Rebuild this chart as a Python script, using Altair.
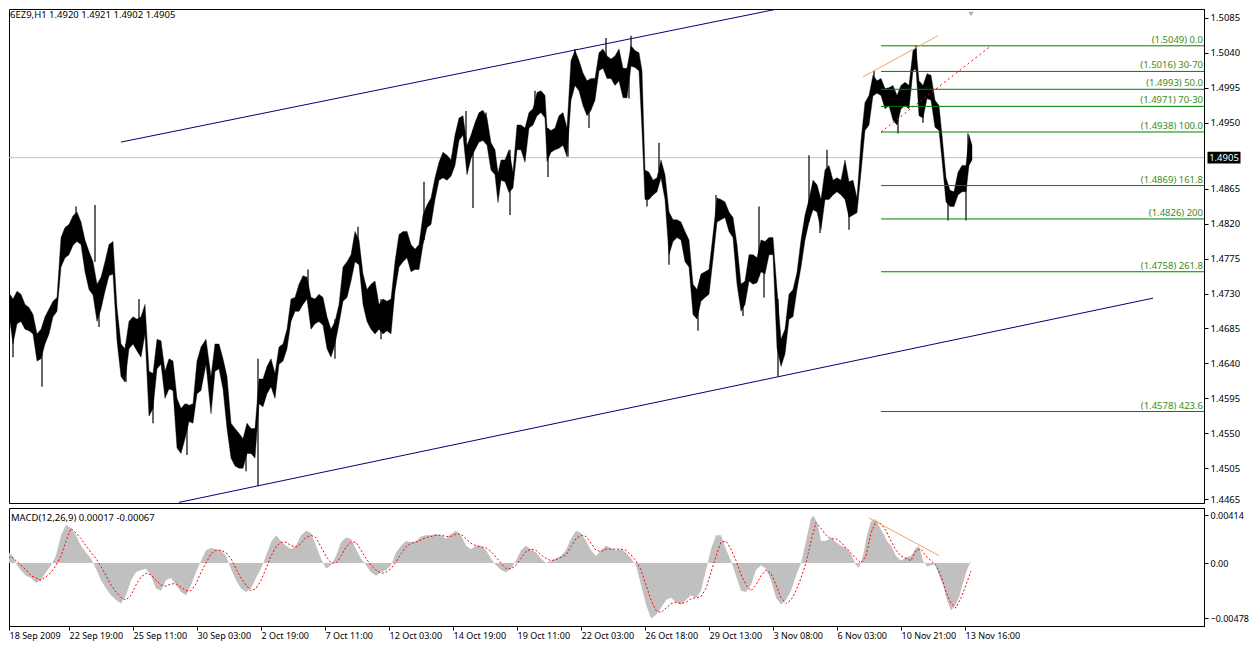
import altair as alt
import pandas as pd

TITLE = "6EZ9,H1  1.4920 1.4921 1.4902 1.4905"
MACD_TITLE = "MACD(12,26,9) 0.00017 -0.00067"
FONT = "Noto Sans"

# ---------------- price samples (bar position, high, low) ----------------
price_bar = [
    5, 9, 12, 16, 20, 24, 28, 32, 36, 40,
    44, 48, 52, 56, 60, 64, 68, 72, 76, 80,
    84, 88, 92, 96, 100, 104, 108, 112, 116, 120,
    124, 128, 132, 136, 140, 144, 148, 152, 156, 160,
    164, 168, 172, 176, 180, 184, 188, 192, 196, 200,
    205, 210, 214, 218, 222, 226, 230, 234, 238, 242,
    246, 250, 254, 258, 262, 266, 270, 274, 278, 282,
    286, 290, 294, 298, 302, 306, 310, 314, 318, 322,
    326, 330, 334, 338, 342, 346, 350, 354, 358, 362,
    366, 370, 374, 378, 382, 386, 390, 394, 398, 402,
    406, 410, 414, 418, 422, 426, 430, 434, 438, 442,
    446, 450, 454, 458, 462, 466, 470, 474, 478, 482,
    486, 490, 494, 497, 500, 504, 508, 512, 516, 520,
    524, 528, 532, 536, 540, 544, 546, 550, 554, 558,
    562, 566, 570, 574, 578, 582, 586, 590, 594, 598,
    602, 606, 610, 614, 618, 622, 626, 630, 634, 638,
    641, 644, 648, 652, 656, 660, 664, 668, 672, 676,
    680, 684, 688, 692, 696, 700, 704, 708, 712, 716,
    720, 724, 728, 732, 736, 740, 744, 748, 752, 756,
    760, 764, 768, 772, 776, 780, 784, 788, 792, 796,
    800, 804, 808, 812, 816, 820, 824, 828, 832, 836,
    840, 844, 848, 852, 856, 860, 864, 868, 872, 876,
    880, 884, 888, 892, 896, 900, 904, 908, 912, 915,
    918, 922, 926, 930, 934, 938, 941, 945, 949, 953,
    957, 961, 965, 968, 971,
]
price_high = [
    1.4726, 1.4729, 1.4723, 1.4733, 1.4729, 1.4716, 1.4712, 1.4703, 1.4678, 1.4684,
    1.4700, 1.4710, 1.4720, 1.4725, 1.4802, 1.4815, 1.4819, 1.4830, 1.4835, 1.4822,
    1.4799, 1.4784, 1.4771, 1.4742, 1.4751, 1.4771, 1.4793, 1.4797, 1.4712, 1.4665,
    1.4659, 1.4694, 1.4700, 1.4697, 1.4700, 1.4716, 1.4630, 1.4627, 1.4671, 1.4669,
    1.4630, 1.4646, 1.4643, 1.4595, 1.4582, 1.4588, 1.4586, 1.4588, 1.4643, 1.4661,
    1.4671, 1.4623, 1.4665, 1.4665, 1.4646, 1.4623, 1.4563, 1.4556, 1.4550, 1.4543,
    1.4563, 1.4556, 1.4556, 1.4620, 1.4620, 1.4636, 1.4646, 1.4627, 1.4661, 1.4665,
    1.4684, 1.4723, 1.4725, 1.4742, 1.4753, 1.4751, 1.4725, 1.4723, 1.4729, 1.4725,
    1.4700, 1.4684, 1.4694, 1.4716, 1.4764, 1.4771, 1.4780, 1.4810, 1.4799, 1.4755,
    1.4735, 1.4742, 1.4746, 1.4716, 1.4723, 1.4720, 1.4723, 1.4771, 1.4806, 1.4810,
    1.4810, 1.4793, 1.4787, 1.4793, 1.4831, 1.4844, 1.4853, 1.4879, 1.4899, 1.4912,
    1.4908, 1.4902, 1.4934, 1.4956, 1.4959, 1.4921, 1.4934, 1.4950, 1.4963, 1.4966,
    1.4956, 1.4924, 1.4915, 1.4885, 1.4902, 1.4902, 1.4915, 1.4886, 1.4947, 1.4947,
    1.4943, 1.4963, 1.4968, 1.4989, 1.4991, 1.4985, 1.4943, 1.4940, 1.4943, 1.4959,
    1.4963, 1.4943, 1.5030, 1.5043, 1.5030, 1.5014, 1.5004, 1.5007, 1.5007, 1.5040,
    1.5045, 1.5036, 1.5032, 1.5036, 1.5045, 1.5020, 1.5020, 1.5049, 1.5043, 1.5040,
    1.5017, 1.4889, 1.4886, 1.4876, 1.4879, 1.4902, 1.4883, 1.4835, 1.4825, 1.4825,
    1.4822, 1.4810, 1.4799, 1.4742, 1.4735, 1.4755, 1.4758, 1.4761, 1.4806, 1.4853,
    1.4851, 1.4848, 1.4835, 1.4828, 1.4793, 1.4742, 1.4746, 1.4780, 1.4780, 1.4776,
    1.4799, 1.4797, 1.4802, 1.4802, 1.4735, 1.4671, 1.4684, 1.4729, 1.4735, 1.4757,
    1.4799, 1.4831, 1.4851, 1.4876, 1.4870, 1.4851, 1.4889, 1.4895, 1.4876, 1.4879,
    1.4876, 1.4902, 1.4874, 1.4876, 1.4853, 1.4927, 1.4976, 1.4985, 1.5011, 1.5004,
    1.5007, 1.4994, 1.4995, 1.4998, 1.4985, 1.4998, 1.5002, 1.4998, 1.5043, 1.5046,
    1.5004, 1.4998, 1.5013, 1.5011, 1.4979, 1.4972, 1.4934, 1.4879, 1.4863, 1.4861,
    1.4886, 1.4895, 1.4895, 1.4934, 1.4921,
]
price_low = [
    1.4697, 1.4694, 1.4665, 1.4691, 1.4694, 1.4684, 1.4682, 1.4678, 1.4643, 1.4646,
    1.4665, 1.4678, 1.4700, 1.4707, 1.4764, 1.4776, 1.4780, 1.4792, 1.4797, 1.4793,
    1.4758, 1.4735, 1.4728, 1.4694, 1.4710, 1.4733, 1.4753, 1.4755, 1.4669, 1.4623,
    1.4616, 1.4659, 1.4665, 1.4656, 1.4648, 1.4678, 1.4572, 1.4582, 1.4633, 1.4639,
    1.4595, 1.4607, 1.4605, 1.4531, 1.4524, 1.4543, 1.4565, 1.4563, 1.4601, 1.4605,
    1.4639, 1.4575, 1.4630, 1.4633, 1.4607, 1.4556, 1.4518, 1.4508, 1.4505, 1.4505,
    1.4524, 1.4524, 1.4518, 1.4588, 1.4584, 1.4601, 1.4610, 1.4595, 1.4639, 1.4643,
    1.4659, 1.4694, 1.4707, 1.4707, 1.4716, 1.4723, 1.4684, 1.4691, 1.4694, 1.4689,
    1.4659, 1.4648, 1.4665, 1.4691, 1.4720, 1.4725, 1.4746, 1.4771, 1.4767, 1.4716,
    1.4694, 1.4684, 1.4678, 1.4684, 1.4678, 1.4682, 1.4678, 1.4733, 1.4764, 1.4771,
    1.4776, 1.4758, 1.4761, 1.4761, 1.4793, 1.4815, 1.4819, 1.4851, 1.4876, 1.4879,
    1.4876, 1.4881, 1.4895, 1.4927, 1.4934, 1.4883, 1.4904, 1.4915, 1.4925, 1.4927,
    1.4921, 1.4889, 1.4883, 1.4847, 1.4876, 1.4874, 1.4860, 1.4866, 1.4915, 1.4915,
    1.4899, 1.4943, 1.4947, 1.4959, 1.4963, 1.4956, 1.4900, 1.4912, 1.4915, 1.4917,
    1.4921, 1.4906, 1.4979, 1.4998, 1.4991, 1.4972, 1.4959, 1.4966, 1.4979, 1.5017,
    1.5020, 1.5007, 1.5007, 1.4998, 1.5004, 1.4982, 1.4982, 1.5023, 1.5021, 1.5017,
    1.4940, 1.4851, 1.4851, 1.4857, 1.4861, 1.4879, 1.4851, 1.4780, 1.4797, 1.4802,
    1.4799, 1.4771, 1.4764, 1.4703, 1.4697, 1.4720, 1.4725, 1.4729, 1.4774, 1.4822,
    1.4825, 1.4828, 1.4810, 1.4802, 1.4742, 1.4707, 1.4716, 1.4746, 1.4742, 1.4744,
    1.4758, 1.4755, 1.4780, 1.4780, 1.4660, 1.4636, 1.4652, 1.4697, 1.4700, 1.4735,
    1.4764, 1.4799, 1.4822, 1.4838, 1.4835, 1.4812, 1.4851, 1.4851, 1.4857, 1.4861,
    1.4857, 1.4851, 1.4828, 1.4831, 1.4834, 1.4886, 1.4940, 1.4947, 1.4985, 1.4988,
    1.4985, 1.4968, 1.4972, 1.4953, 1.4947, 1.4968, 1.4972, 1.4968, 1.5017, 1.5020,
    1.4959, 1.4956, 1.4981, 1.4979, 1.4944, 1.4940, 1.4902, 1.4848, 1.4842, 1.4842,
    1.4857, 1.4861, 1.4861, 1.4895, 1.4902,
]
assert len(price_bar) == len(price_high) == len(price_low)

spike_bar = [12, 41, 75, 94, 98, 125, 138, 152, 186, 245,
             257, 307, 334, 357, 380, 423, 465, 472, 485, 509,
             534, 547, 567, 574, 588, 605, 628, 630, 646, 658,
             668, 697, 715, 742, 758, 763, 777, 808, 819, 826,
             848, 873, 897, 915, 922, 947, 965, 967]
spike_high = [1.4723, 1.4684, 1.4842, 1.4844, 1.4735, 1.4665, 1.4723, 1.4627, 1.4588, 1.4543,
              1.4646, 1.4761, 1.4697, 1.4816, 1.4723, 1.4874, 1.4965, 1.4940, 1.4963, 1.4915,
              1.4991, 1.4943, 1.4943, 1.5045, 1.5004, 1.5059, 1.5023, 1.5062, 1.4883, 1.4924,
              1.4812, 1.4723, 1.4857, 1.4735, 1.4842, 1.4774, 1.4723, 1.4908, 1.4844, 1.4915,
              1.4870, 1.5017, 1.4979, 1.5049, 1.4991, 1.4863, 1.4889, 1.4936]
spike_low = [1.4648, 1.4610, 1.4799, 1.4771, 1.4687, 1.4616, 1.4665, 1.4563, 1.4522, 1.4501,
             1.4482, 1.4723, 1.4646, 1.4771, 1.4671, 1.4799, 1.4927, 1.4840, 1.4927, 1.4831,
             1.4959, 1.4880, 1.4906, 1.4998, 1.4943, 1.5023, 1.4981, 1.5030, 1.4842, 1.4889,
             1.4767, 1.4682, 1.4822, 1.4701, 1.4774, 1.4725, 1.4623, 1.4822, 1.4808, 1.4863,
             1.4812, 1.4985, 1.4936, 1.5017, 1.4950, 1.4824, 1.4824, 1.4895]
assert len(spike_bar) == len(spike_high) == len(spike_low)

# ---------------- Fibonacci levels ----------------
fib_price = [1.5049, 1.5016, 1.4993, 1.4971, 1.4938, 1.4869, 1.4826, 1.4758, 1.4578]
fib_level = ["0.0", "30-70", "50.0", "70-30", "100.0", "161.8", "200", "261.8", "423.6"]
fib_start = 880

last_price = 1.4905

# ---------------- trend lines ----------------
channel_id = ["upper", "upper", "lower", "lower"]
channel_bar = [120, 775, 178, 1152]
channel_price = [1.4925, 1.5096, 1.4461, 1.4724]
orange_bar = [862, 937]
orange_price = [1.5009, 1.5062]
red_bar = [880, 990]
red_price = [1.4938, 1.5049]

price_ticks = [1.5085, 1.5040, 1.4995, 1.4950, 1.4865, 1.4820, 1.4775,
               1.4730, 1.4685, 1.4640, 1.4595, 1.4550, 1.4505, 1.4465]

time_ticks = [8, 68, 132, 196, 260, 324, 388, 452, 516, 580, 644, 708, 772, 836, 900, 964]
time_labels = ["18 Sep 2009", "22 Sep 19:00", "25 Sep 11:00", "30 Sep 03:00", "2 Oct 19:00",
               "7 Oct 11:00", "12 Oct 03:00", "14 Oct 19:00", "19 Oct 11:00", "22 Oct 03:00",
               "26 Oct 18:00", "29 Oct 13:00", "3 Nov 08:00", "6 Nov 03:00", "10 Nov 21:00",
               "13 Nov 16:00"]

# ---------------- MACD ----------------
macd_bar = [5, 8, 12, 16, 20, 25, 30, 35, 40, 45, 50, 55, 60, 65, 70, 75, 80, 85, 90, 95,
            100, 105, 110, 115, 120, 125, 130, 135, 140, 145, 150, 155, 160, 165, 170, 175, 180, 185, 190, 195,
            200, 205, 210, 215, 220, 225, 230, 235, 240, 245, 250, 255, 260, 265, 270, 275, 280, 285, 290, 295,
            300, 305, 310, 315, 320, 325, 330, 335, 340, 345, 350, 355, 360, 365, 370, 375, 380, 385, 390, 395,
            400, 405, 410, 415, 420, 425, 430, 435, 440, 445, 450, 455, 460, 465, 470, 475, 480, 485, 490, 495,
            500, 505, 510, 515, 520, 525, 530, 535, 540, 545, 550, 555, 560, 565, 570, 575, 580, 585, 590, 595,
            600, 605, 610, 615, 620, 625, 630, 635, 640, 645, 650, 655, 660, 665, 670, 675, 680, 685, 690, 695,
            700, 705, 710, 715, 720, 725, 730, 735, 740, 745, 750, 755, 760, 765, 770, 775, 780, 785, 790, 795,
            800, 805, 810, 813, 817, 820, 825, 830, 835, 840, 845, 850, 855, 858, 862, 866, 870, 874, 878, 882,
            886, 890, 895, 900, 905, 910, 915, 918, 922, 926, 930, 934, 938, 942, 946, 950, 954, 958, 962, 966,
            970]
macd_main = [0.0, 0.0009, 0.00056, -0.0002, -0.00064, -0.0011, -0.0013, -0.0017, -0.0015, -0.0008,
             -0.0002, 0.00064, 0.0024, 0.0033, 0.0030, 0.0024, 0.0015, 0.0009, 0.0004, -0.0005,
             -0.0015, -0.0022, -0.0028, -0.0032, -0.0035, -0.0028, -0.0015, -0.0008, -0.0006, -0.0005,
             -0.0011, -0.0022, -0.0024, -0.0015, -0.0013, -0.0019, -0.0025, -0.0028, -0.0019, -0.0008,
             0.0002, 0.0011, 0.0013, 0.0012, 0.0011, 0.0006, -0.0005, -0.0015, -0.0022, -0.0025,
             -0.0022, -0.0013, -0.0005, 0.0006, 0.0018, 0.0024, 0.0019, 0.0015, 0.0012, 0.0015,
             0.0024, 0.0028, 0.0026, 0.0015, 0.0004, -0.0005, -0.0002, 0.0006, 0.0018, 0.0022,
             0.0021, 0.0012, 0.0004, -0.0002, -0.0008, -0.0011, -0.0008, -0.0006, -0.0002, 0.0009,
             0.0015, 0.0019, 0.0018, 0.0019, 0.0023, 0.0024, 0.0024, 0.0025, 0.0024, 0.0021,
             0.0025, 0.0028, 0.0024, 0.0015, 0.0012, 0.0015, 0.0015, 0.0011, 0.0004, -0.0002,
             -0.0006, -0.0008, -0.0005, 0.0002, 0.0011, 0.0015, 0.0012, 0.0009, 0.0004, 0.0,
             0.0002, 0.0004, 0.0006, 0.0011, 0.0021, 0.0028, 0.0026, 0.0019, 0.0011, 0.0006,
             0.0011, 0.0015, 0.0013, 0.0011, 0.0012, 0.0009, 0.0004, -0.0002, -0.0019, -0.0036,
             -0.0048, -0.0045, -0.0039, -0.0032, -0.0030, -0.0034, -0.0036, -0.0032, -0.0028, -0.0030,
             -0.0024, -0.0006, 0.0012, 0.0024, 0.0024, 0.0012, 0.0002, -0.0011, -0.0024, -0.0025,
             -0.0019, -0.0006, -0.0002, -0.0005, -0.0015, -0.0030, -0.0036, -0.0032, -0.0024, -0.0011,
             0.0, 0.0019, 0.0039, 0.0041, 0.0032, 0.0019, 0.0019, 0.0022, 0.0018, 0.0015,
             0.0013, 0.0008, -0.0002, -0.0004, 0.0006, 0.0024, 0.0036, 0.0038, 0.0032, 0.0026,
             0.0019, 0.0015, 0.0006, 0.0002, 0.0005, 0.0006, 0.0013, 0.0015, 0.0002, -0.0003,
             -0.0002, -0.0001, -0.0011, -0.0019, -0.0032, -0.0041, -0.0037, -0.0030, -0.0017, -0.0006,
             0.0002]
assert len(macd_bar) == len(macd_main)

signal_bar = list(range(5, 971, 5))
macd_signal = [
    0.0002, 0.0006, 0.0002, -0.0002, -0.0006, -0.0011, -0.0013, -0.0015, -0.0012, -0.0008,
    -0.0002, 0.0006, 0.0019, 0.0030, 0.0026, 0.0021, 0.0015, 0.0009, 0.0004, -0.0003,
    -0.0011, -0.0019, -0.0025, -0.0030, -0.0032, -0.0028, -0.0019, -0.0012, -0.0009, -0.0010,
    -0.0015, -0.0019, -0.0020, -0.0018, -0.0018, -0.0021, -0.0024, -0.0024, -0.0018, -0.0008,
    0.0, 0.0008, 0.0011, 0.0011, 0.0009, 0.0004, -0.0005, -0.0013, -0.0019, -0.0024,
    -0.0022, -0.0015, -0.0005, 0.0006, 0.0014, 0.0018, 0.0018, 0.0015, 0.0014, 0.0017,
    0.0022, 0.0024, 0.0022, 0.0014, 0.0006, 0.0, 0.0, 0.0006, 0.0014, 0.0018,
    0.0018, 0.0011, 0.0004, -0.0002, -0.0006, -0.0009, -0.0008, -0.0005, 0.0001, 0.0008,
    0.0014, 0.0017, 0.0018, 0.0020, 0.0022, 0.0023, 0.0024, 0.0024, 0.0023, 0.0023,
    0.0025, 0.0025, 0.0021, 0.0017, 0.0015, 0.0014, 0.0013, 0.0010, 0.0005, 0.0,
    -0.0005, -0.0005, -0.0002, 0.0004, 0.0010, 0.0012, 0.0011, 0.0007, 0.0004, 0.0002,
    0.0003, 0.0005, 0.0007, 0.0014, 0.0021, 0.0024, 0.0023, 0.0017, 0.0011, 0.0010,
    0.0012, 0.0012, 0.0012, 0.0012, 0.0011, 0.0007, 0.0002, -0.0006, -0.0019, -0.0032,
    -0.0041, -0.0043, -0.0039, -0.0035, -0.0034, -0.0035, -0.0034, -0.0031, -0.0030, -0.0029,
    -0.0022, -0.0008, 0.0006, 0.0018, 0.0019, 0.0012, 0.0002, -0.0010, -0.0019, -0.0024,
    -0.0019, -0.0011, -0.0006, -0.0009, -0.0019, -0.0030, -0.0035, -0.0032, -0.0024, -0.0013,
    0.0, 0.0019, 0.0035, 0.0030, 0.0024, 0.0021, 0.0021, 0.0018, 0.0013, 0.0009,
    0.0004, 0.0, 0.0006, 0.0026, 0.0036, 0.0034, 0.0028, 0.0019, 0.0011, 0.0006,
    0.0004, 0.0002, 0.0011, 0.0012, 0.0006, 0.0002, -0.0002, -0.0011, -0.0025, -0.0035,
    -0.0039, -0.0030, -0.0019, -0.0007,
]
assert len(signal_bar) == len(macd_signal)

macd_orange_bar = [868, 938]
macd_orange_val = [0.0039, 0.00064]
macd_ticks = [0.00414, 0.0, -0.00478]

# ---------------- layout ----------------
W = 1195
MAIN_H = 494
MACD_H = 118
X_MIN, X_MAX = 8, 8 + W

xs = alt.Scale(domain=[X_MIN, X_MAX], nice=False, zero=False)
ys = alt.Scale(domain=[1.44602, 1.50964], nice=False, zero=False)
ms = alt.Scale(domain=[-0.00545, 0.00476], nice=False, zero=False)

y_axis = alt.Axis(orient="right", values=price_ticks, format=".4f", title=None, grid=False,
                  tickSize=4, labelPadding=2, labelOverlap=False, labelFontSize=9.5,
                  labelFont=FONT, labelColor="black", tickColor="black", domainColor="black",
                  labelBound=False)

label_expr = ("[" + ",".join(f"'{l}'" for l in time_labels) + "][indexof(["
              + ",".join(str(t) for t in time_ticks) + "], datum.value)]")
x_axis = alt.Axis(orient="bottom", values=time_ticks, labelExpr=label_expr, title=None,
                  grid=False, tickSize=4, labelPadding=1, labelAlign="left", labelFlush=False,
                  labelOverlap=False, labelFontSize=9, labelFont=FONT, labelColor="black",
                  tickColor="black", domainColor="black", labelBound=False)
m_axis = alt.Axis(orient="right", values=macd_ticks, title=None, grid=False, tickSize=4,
                  labelPadding=2, labelOverlap=False, labelFontSize=9, labelFont=FONT,
                  labelColor="black", tickColor="black", domainColor="black", labelBound=False,
                  labelExpr="datum.value == 0 ? '0.00' : format(datum.value, '.5f')")


def PX(field):
    return alt.X(field, type="quantitative", scale=xs, axis=None)


def PY(field):
    return alt.Y(field, type="quantitative", scale=ys, axis=y_axis)


def MX(field):
    return alt.X(field, type="quantitative", scale=xs, axis=x_axis)


def MY(field):
    return alt.Y(field, type="quantitative", scale=ms, axis=m_axis)


price_df = pd.DataFrame({"bar": price_bar, "high": price_high, "low": price_low})
spike_df = pd.DataFrame({"bar": spike_bar, "high": spike_high, "low": spike_low})
fib_df = pd.DataFrame({
    "price": fib_price,
    "start": [fib_start] * len(fib_price),
    "end": [X_MAX] * len(fib_price),
    "label": [f"({p:.4f})  {l}" for p, l in zip(fib_price, fib_level)],
})
channel_df = pd.DataFrame({"id": channel_id, "bar": channel_bar, "price": channel_price})
orange_df = pd.DataFrame({"bar": orange_bar, "price": orange_price})
red_df = pd.DataFrame({"bar": red_bar, "price": red_price})
last_df = pd.DataFrame({"price": [last_price], "label": [f"{last_price:.4f}"]})
title_df = pd.DataFrame({"t": [TITLE]})

current_line = alt.Chart(last_df).mark_rule(color="#c0c0c0", strokeWidth=1).encode(
    y=PY("price"))

price_area = alt.Chart(price_df).mark_area(color="black", stroke="black", strokeWidth=0.4,
                                           clip=True).encode(
    x=PX("bar"), y=PY("high"), y2="low:Q")

spikes = alt.Chart(spike_df).mark_rule(color="black", strokeWidth=1.2, clip=True).encode(
    x=PX("bar"), y=PY("high"), y2="low:Q")

fib_lines = alt.Chart(fib_df).mark_rule(color="#008000", strokeWidth=1).encode(
    x=PX("start"), x2="end:Q", y=PY("price"))

fib_text = alt.Chart(fib_df).mark_text(align="right", baseline="bottom", dy=-1,
                                       font=FONT, fontSize=9.5, color="#3c8c14").encode(
    x=alt.value(W - 1), y=PY("price"), text="label:N")

channel = alt.Chart(channel_df).mark_line(color="#000080", strokeWidth=1, clip=True).encode(
    x=PX("bar"), y=PY("price"), detail="id:N")

orange = alt.Chart(orange_df).mark_line(color="#f4a460", strokeWidth=1, clip=True).encode(
    x=PX("bar"), y=PY("price"))

red = alt.Chart(red_df).mark_line(color="red", strokeWidth=1, strokeDash=[2, 3], clip=True).encode(
    x=PX("bar"), y=PY("price"))

title_text = alt.Chart(title_df).mark_text(align="left", baseline="middle", font=FONT,
                                           fontSize=9.5, color="black").encode(
    x=alt.value(1), y=alt.value(6), text="t:N")

box_path = "M-1,-0.36L1,-0.36L1,0.36L-1,0.36Z"
price_box = alt.Chart(last_df).mark_point(shape=box_path, filled=True, color="black",
                                          opacity=1, size=33 * 33, strokeWidth=0).encode(
    x=alt.value(W + 20), y=PY("price"))
price_box_text = alt.Chart(last_df).mark_text(align="center", baseline="middle", font=FONT,
                                              fontSize=9.5, color="white").encode(
    x=alt.value(W + 20), y=PY("price"), text="label:N")

shift_marker = alt.Chart(pd.DataFrame({"bar": [970]})).mark_point(
    shape="triangle-down", filled=True, color="#b0b0b0", opacity=1, size=30).encode(
    x=PX("bar"), y=alt.value(5))

main = alt.layer(current_line, price_area, spikes, fib_lines, channel, orange, red,
                 fib_text, title_text, price_box, price_box_text, shift_marker).properties(
    width=W, height=MAIN_H)

# ---------------- MACD panel ----------------
macd_df = pd.DataFrame({"bar": macd_bar, "v": macd_main})
sig_df = pd.DataFrame({"bar": signal_bar, "s": macd_signal})
morange_df = pd.DataFrame({"bar": macd_orange_bar, "v": macd_orange_val})
mtitle_df = pd.DataFrame({"t": [MACD_TITLE]})

hist = alt.Chart(macd_df).mark_area(color="#c0c0c0", clip=True).encode(
    x=MX("bar"), y=MY("v"), y2=alt.datum(0))

signal = alt.Chart(sig_df).mark_line(color="red", strokeWidth=1, strokeDash=[2, 2], clip=True).encode(
    x=MX("bar"), y=MY("s"))

morange = alt.Chart(morange_df).mark_line(color="#f4a460", strokeWidth=1).encode(
    x=MX("bar"), y=MY("v"))

mtitle = alt.Chart(mtitle_df).mark_text(align="left", baseline="middle", font=FONT,
                                        fontSize=9.5, color="black").encode(
    x=alt.value(2), y=alt.value(10), text="t:N")

macd = alt.layer(hist, signal, morange, mtitle).properties(width=W, height=MACD_H)

chart = alt.vconcat(main, macd, spacing=2).properties(
    padding={"left": 0, "top": 0, "right": 0, "bottom": 0}
).configure(background="white").configure_view(stroke="black", strokeWidth=1)

chart.save("out.html", embed_options={"renderer": "svg", "actions": False})
